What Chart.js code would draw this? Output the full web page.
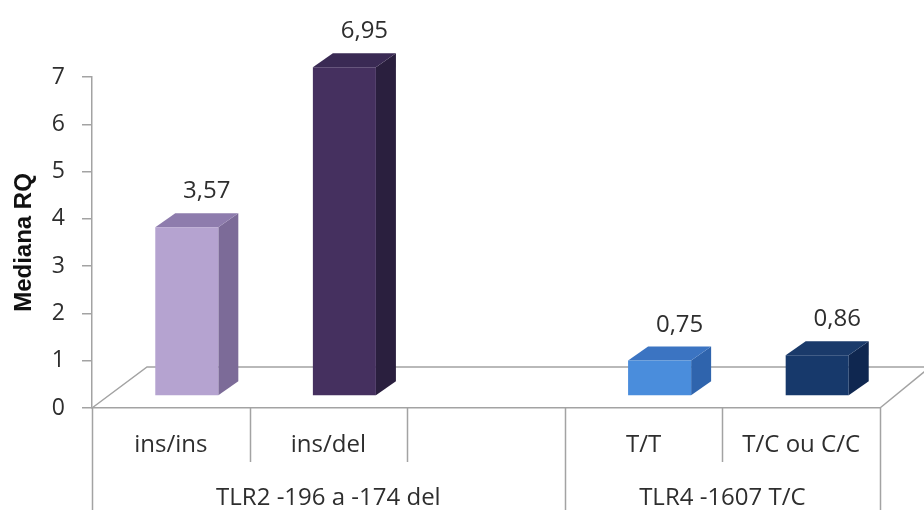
<!DOCTYPE html>
<html>
<head>
<meta charset="utf-8">
<script src="https://cdn.jsdelivr.net/npm/chart.js@4/dist/chart.umd.min.js"></script>
<style>
  html, body { margin: 0; padding: 0; background: #fff; }
  #wrap { width: 924px; height: 510px; }
</style>
</head>
<body>
<div id="wrap"><canvas id="chart"></canvas></div>
<script>
// Data
const categories = ['ins/ins', 'ins/del', '', 'T/T', 'T/C ou C/C'];
const medianaRQ = [3.57, 6.95, null, 0.75, 0.86];
const groupLabels = ['TLR2 -196 a -174 del', 'TLR4 -1607 T/C'];
const groupFirst = [0, 3];   // first category index of each group
const groupLast = [2, 4];    // last category index of each group

// Theme
const FONT = "'Open Sans', sans-serif";
const TEXT = '#2e2e2e';
const LINE = '#a3a3a3';
const FRONT = ['#b5a3d0', '#45305f', null, '#4a8ddc', '#17396b'];
const SIDE  = ['#7c6b98', '#2a1f3e', null, '#2f64ad', '#0f2750'];
const TOP   = ['#8e7cad', '#3a2a54', null, '#3b74c2', '#1a3a6a'];

// 3D look: bars sit partway back on the floor
const SHIFT = { x: 16, y: -12 };
const DEPTH = { x: 20, y: -14 };
const FLOOR = { x: 55, y: -41, xRight: 50 };

function fillPoly(ctx, color, pts) {
    ctx.fillStyle = color;
    ctx.beginPath();
    ctx.moveTo(pts[0][0], pts[0][1]);
    for (let i = 1; i < pts.length; i++) ctx.lineTo(pts[i][0], pts[i][1]);
    ctx.closePath();
    ctx.fill();
}

function fmt(v) {
    return v.toFixed(2).replace('.', ',');
}

const bars3d = {
    id: 'bars3d',
    beforeDatasetsDraw(chart) {
        const ctx = chart.ctx;
        const { left, right, bottom } = chart.chartArea;

        // floor (back part)
        ctx.save();
        ctx.strokeStyle = LINE;
        ctx.lineWidth = 1.5;
        ctx.beginPath();
        ctx.moveTo(left, bottom);
        ctx.lineTo(left + FLOOR.x, bottom + FLOOR.y);
        ctx.lineTo(right + FLOOR.xRight, bottom + FLOOR.y);
        ctx.moveTo(right, bottom);
        ctx.lineTo(right + FLOOR.xRight, bottom + FLOOR.y);
        ctx.stroke();

        // bars
        const meta = chart.getDatasetMeta(0);
        ctx.font = '24px ' + FONT;
        ctx.textAlign = 'center';
        ctx.textBaseline = 'alphabetic';
        meta.data.forEach((bar, i) => {
            if (medianaRQ[i] == null) return;
            const p = bar.getProps(['x', 'y', 'base', 'width'], true);
            const x0 = p.x - p.width / 2 + SHIFT.x;
            const x1 = p.x + p.width / 2 + SHIFT.x;
            const yt = p.y + SHIFT.y;
            const yb = p.base + SHIFT.y;

            fillPoly(ctx, SIDE[i], [[x1, yt], [x1 + DEPTH.x, yt + DEPTH.y], [x1 + DEPTH.x, yb + DEPTH.y], [x1, yb]]);
            fillPoly(ctx, TOP[i], [[x0, yt], [x0 + DEPTH.x, yt + DEPTH.y], [x1 + DEPTH.x, yt + DEPTH.y], [x1, yt]]);
            fillPoly(ctx, FRONT[i], [[x0, yt], [x1, yt], [x1, yb], [x0, yb]]);

            ctx.fillStyle = TEXT;
            ctx.fillText(fmt(medianaRQ[i]), p.x + SHIFT.x + DEPTH.x, yt + DEPTH.y - 15);
        });
        ctx.restore();
        return false;
    },
    afterDraw(chart) {
        const ctx = chart.ctx;
        const { left, right, bottom } = chart.chartArea;
        const h = chart.height;
        const w = (right - left) / categories.length;

        ctx.save();
        ctx.strokeStyle = LINE;
        ctx.lineWidth = 1.5;
        ctx.beginPath();
        for (let k = 0; k <= categories.length; k++) {
            const x = Math.round(left + k * w) + 0.5;
            const isGroupEdge = k === 0 || groupLast.some(g => g + 1 === k);
            ctx.moveTo(x, bottom);
            ctx.lineTo(x, isGroupEdge ? h : bottom + 54);
        }
        ctx.stroke();

        // group labels
        ctx.fillStyle = TEXT;
        ctx.font = '24px ' + FONT;
        ctx.textAlign = 'center';
        ctx.textBaseline = 'middle';
        groupLabels.forEach((g, j) => {
            const cx = left + (groupFirst[j] + groupLast[j] + 1) / 2 * w;
            ctx.fillText(g, cx, bottom + 90);
        });
        ctx.restore();
    }
};

new Chart(document.getElementById('chart'), {
    type: 'bar',
    data: {
        labels: categories,
        datasets: [{
            data: medianaRQ,
            backgroundColor: FRONT,
            barPercentage: 0.4,
            categoryPercentage: 1
        }]
    },
    options: {
        responsive: true,
        maintainAspectRatio: false,
        animation: false,
        layout: { padding: { top: 77, right: 44, left: 0, bottom: 0 } },
        plugins: {
            legend: { display: false },
            tooltip: { enabled: false }
        },
        scales: {
            x: {
                afterFit: (s) => { s.height = 102; },
                grid: { display: false, drawTicks: false },
                border: { color: LINE, width: 1.5 },
                ticks: { color: TEXT, font: { family: FONT, size: 24 }, padding: 23, maxRotation: 0 }
            },
            y: {
                min: 0,
                max: 7,
                afterFit: (s) => { s.width = 92; },
                ticks: { stepSize: 1, color: TEXT, font: { family: FONT, size: 23 }, padding: 17 },
                grid: { drawOnChartArea: false, tickLength: 10, color: LINE, lineWidth: 1.5 },
                border: { color: LINE, width: 1.5 },
                title: {
                    display: true,
                    text: 'Mediana RQ',
                    color: '#111',
                    font: { family: "'Liberation Sans', Arial, sans-serif", size: 24, weight: 'bold' },
                    padding: { top: 10, bottom: 0 }
                }
            }
        }
    },
    plugins: [bars3d]
});
</script>
</body>
</html>
